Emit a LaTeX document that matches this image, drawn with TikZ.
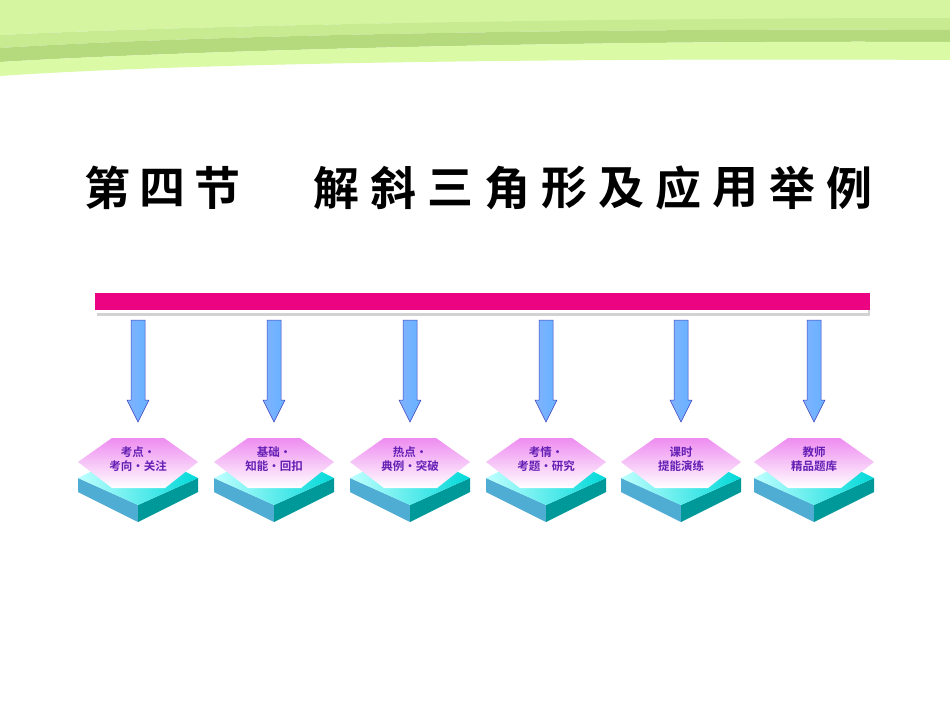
\documentclass[tikz,border=0pt]{standalone}
\usepackage{fontspec}
\newfontfamily\cjk{Noto Sans CJK SC}
\newfontfamily\cjkb{Noto Sans CJK SC Bold}
\definecolor{lblc}{RGB}{100,30,180}
\definecolor{gA}{RGB}{214,245,160}
\definecolor{gB}{RGB}{200,235,145}
\definecolor{gC}{RGB}{180,218,125}
\definecolor{gD}{RGB}{218,250,165}
\definecolor{pinkt}{RGB}{238,140,240}
\begin{document}
\begin{tikzpicture}[x=1pt,y=-1pt,
  lbl/.style={font=\cjkb\fontsize{11.5}{14}\selectfont, text=lblc, align=center, inner sep=0pt},
  ttl/.style={font=\cjkb\fontsize{46}{48}\selectfont, inner sep=0pt},
  arr/.style={draw=blue!50!gray, line width=0.5pt, top color=cyan!40!blue!50, bottom color=cyan!50!blue!60, shading angle=90}]
\useasboundingbox (0,0) rectangle (950,713);
\fill[white] (0,0) rectangle (950,713);
% green band
\fill[gA] (0,0) -- (950,0) -- (950,20) .. controls (600,18) and (200,25) .. (0,35) -- cycle;
\fill[gB] (0,35) .. controls (200,25) and (600,18) .. (950,18) -- (950,30) .. controls (600,28) and (200,35) .. (0,48) -- cycle;
\fill[gC] (0,48) .. controls (200,35) and (600,28) .. (950,30) -- (950,42) .. controls (600,40) and (200,50) .. (0,62) -- cycle;
\fill[gD] (0,62) .. controls (200,50) and (600,40) .. (950,42) -- (950,60) .. controls (600,58) and (200,62) .. (0,76) -- cycle;
% title
\foreach \c [count=\i] in {第,四,节}{\node[ttl] (t\i) at (80+27+55*\i-55,188) {\c};}
\foreach \c [count=\i] in {解,斜,三,角,形,及,应,用,举,例}{\node[ttl] (u\i) at (336+57*\i-57,188) {\c};}
% bar
\fill[gray!35] (97,296) rectangle (870,316);
\fill[white] (96,294) rectangle (868,313);
\fill[magenta!90!red] (95,293) rectangle (870,310);
\coordinate (bar) at (482,310);
\foreach \x/\n/\t in {138/a/{考点·\\考向·关注},274/b/{基础·\\知能·回扣},410/c/{热点·\\典例·突破},546/d/{考情·\\考题·研究},681/e/{课时\\提能演练},814/f/{教师\\精品题库}}{
  \draw[arr] (\x-7,320) -- (\x+7,320) -- (\x+7,400) -- (\x+11,400) -- (\x,422) -- (\x-11,400) -- (\x-7,400) -- cycle;
  \fill[cyan!60!teal!80] (\x-60,478) -- (\x,505) -- (\x,522) -- (\x-60,492) -- cycle;
  \fill[teal!80!cyan] (\x+60,478) -- (\x,505) -- (\x,522) -- (\x+60,492) -- cycle;
  \shade[left color=cyan!25, right color=cyan!70!teal] (\x-60,478) -- (\x-28,462) -- (\x+28,462) -- (\x+60,478) -- (\x,505) -- cycle;
  \shade[top color=pinkt, bottom color=white] (\x-60,462) -- (\x-26,438) -- (\x+26,438) -- (\x+60,462) -- (\x+27,488) -- (\x-26,488) -- cycle;
  \node[lbl] (\n) at (\x,459) {\t};
}
\end{tikzpicture}
\end{document}
